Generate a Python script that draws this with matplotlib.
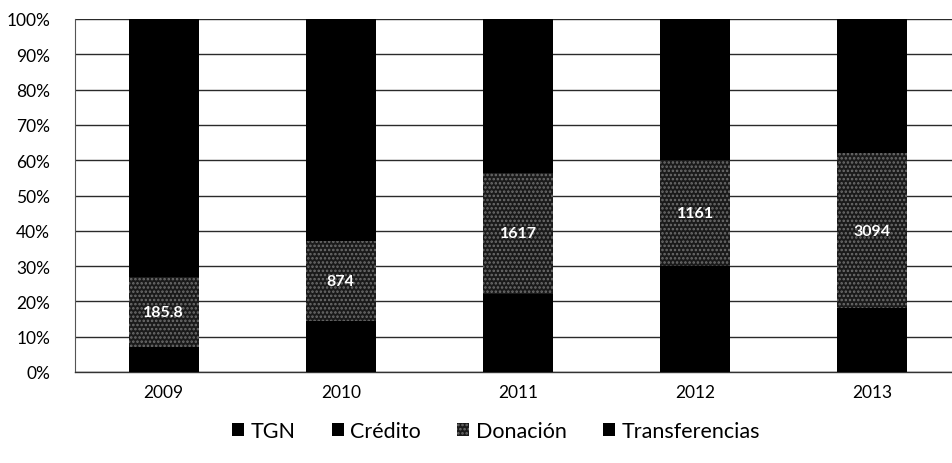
import matplotlib
matplotlib.use("Agg")
import matplotlib.pyplot as plt
from matplotlib.patches import Patch
import numpy as np

plt.rcParams['font.family'] = ['Lato', 'DejaVu Sans']
plt.rcParams['hatch.linewidth'] = 1.2

years = ["2009", "2010", "2011", "2012", "2013"]
tgn = [5, 14, 9, 11, 11]
credito = [2, 0.5, 13, 19, 7]
donacion = [20, 22.5, 34.5, 30, 44]
transferencias = [73, 63, 43.5, 40, 38]
donacion_labels = ["185.8", "874", "1617", "1161", "3094"]

series = [tgn, credito, donacion, transferencias]
names = ["TGN", "Crédito", "Donación", "Transferencias"]

data = np.array(series, dtype=float)
pct = data / data.sum(axis=0) * 100

fig = plt.figure(figsize=(9.52, 4.64), dpi=100)
ax = fig.add_axes([75/952, 91/464, 877/952, 353/464])

x = np.arange(len(years))
w = 0.395
bottom = np.zeros(len(years))
don_style = dict(facecolor="#1a1a1a", edgecolor="#6e6e6e", hatch="....", linewidth=0)
styles = [
    dict(color="#000000"),
    dict(color="#000000"),
    don_style,
    dict(color="#000000"),
]
for vals, st in zip(pct, styles):
    ax.bar(x, vals, w, bottom=bottom, zorder=3, **st)
    bottom += vals

# Donación labels
don_bottom = pct[0] + pct[1]
for i, lab in enumerate(donacion_labels):
    ax.text(x[i], don_bottom[i] + pct[2][i] / 2, lab, ha="center", va="center",
            color="white", fontsize=11.5, fontweight="bold", zorder=5)

ax.set_xlim(-0.5, -0.5 + 877 / 177.2)
ax.set_ylim(0, 100)
ax.set_yticks(np.arange(0, 101, 10))
ax.set_yticklabels([f"{v}%" for v in range(0, 101, 10)], fontsize=12.5)
ax.set_xticks(x)
ax.set_xticklabels(years, fontsize=12.5)
ax.tick_params(axis="both", length=0)
ax.tick_params(axis="y", pad=18)
ax.tick_params(axis="x", pad=9)
ax.yaxis.grid(True, color="#2a2a2a", linewidth=1.0, zorder=0)
ax.set_axisbelow(True)
for s in ["top", "right"]:
    ax.spines[s].set_visible(False)
ax.spines["left"].set_color("#555555")
ax.spines["left"].set_linewidth(0.8)
ax.spines["left"].set_linestyle((0, (3, 1)))
ax.spines["bottom"].set_color("#333333")
ax.spines["bottom"].set_linewidth(1.0)

handles = [
    Patch(facecolor="#000000"),
    Patch(facecolor="#000000"),
    Patch(**don_style),
    Patch(facecolor="#000000"),
]
fig.legend(handles, names, loc="center", bbox_to_anchor=(496/952, 1 - 432/464),
           ncol=4, frameon=False, fontsize=15.5, handlelength=0.55, handleheight=0.55,
           handletextpad=0.3, columnspacing=1.7)

fig.savefig("out.png", dpi=100)
